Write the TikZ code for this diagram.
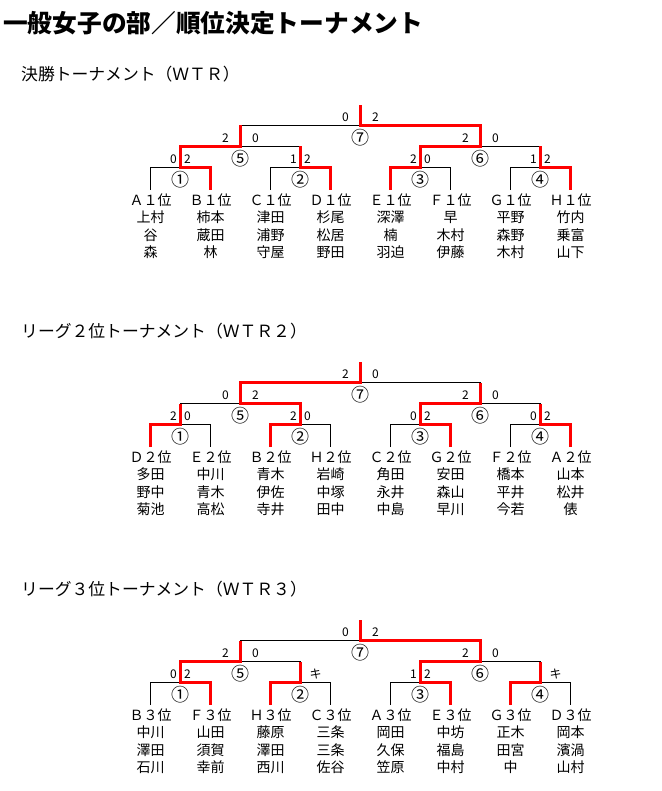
\documentclass[tikz,border=0pt]{standalone}
\usepackage{fontspec}
\setmainfont{Noto Sans CJK JP}
\newfontfamily\jp{Noto Sans CJK JP}
\definecolor{winred}{RGB}{255,0,0}
\tikzset{
  blk/.style={line width=1pt, black},
  redl/.style={line width=3pt, winred, line join=miter},
  lab/.style={font=\jp\fontsize{14}{14}\selectfont, inner sep=0pt},
  sc/.style={font=\jp\fontsize{12}{12}\selectfont, inner sep=0pt},
  circ/.style={font=\jp\fontsize{18}{18}\selectfont, inner sep=0pt},
  subt/.style={font=\jp\fontsize{16.8}{16.8}\selectfont, inner sep=0pt, anchor=west},
  ttl/.style={font=\jp\bfseries\fontsize{24.7}{24.7}\selectfont, inner sep=0pt, anchor=west},
}
\newcommand\mkcoords[1]{%
  \coordinate (#1l1) at (150.5,190);
  \coordinate (#1l2) at (210.5,190);
  \coordinate (#1l3) at (270.5,190);
  \coordinate (#1l4) at (330.5,190);
  \coordinate (#1l5) at (390.5,190);
  \coordinate (#1l6) at (450.5,190);
  \coordinate (#1l7) at (510.5,190);
  \coordinate (#1l8) at (570.5,190);
  \coordinate (#1m1) at (180.5,167.5);
  \coordinate (#1m2) at (300.5,167.5);
  \coordinate (#1m3) at (420.5,167.5);
  \coordinate (#1m4) at (540.5,167.5);
  \coordinate (#1m5) at (240.5,146.5);
  \coordinate (#1m6) at (480.5,146.5);
  \coordinate (#1m7) at (360.5,125.5);
  \coordinate (#1top) at (360.5,105);
  \draw[blk] (#1l1) |- (#1m1) -| (#1l2);
  \draw[blk] (#1l3) |- (#1m2) -| (#1l4);
  \draw[blk] (#1l5) |- (#1m3) -| (#1l6);
  \draw[blk] (#1l7) |- (#1m4) -| (#1l8);
  \draw[blk] (#1m1) |- (#1m5) -| (#1m2);
  \draw[blk] (#1m3) |- (#1m6) -| (#1m4);
  \draw[blk] (#1m5) |- (#1m7) -| (#1m6);
  \foreach \m/\g in {1/①,2/②,3/③,4/④,5/⑤,6/⑥,7/⑦}
    \node[circ] (#1c\m) at ([yshift=-12pt]#1m\m) {\g};
}
\newcommand\win[3]{\draw[redl] (#1) |- (#2) -- (#2 |- #3);}
\newcommand\scores[5]{%
  \node[sc] (#1sl#2) at ([xshift=-#3pt,yshift=8pt]#1m#2) {#4};
  \node[sc] (#1sr#2) at ([xshift=#3pt,yshift=8pt]#1m#2) {#5};}
\newcommand\rscore[4]{%
  \node[sc] (#1sr#2) at ([xshift=#3pt,yshift=8pt]#1m#2) {#4};}
\begin{document}
\begin{tikzpicture}[x=1pt,y=-1pt]
\useasboundingbox[fill=white] (0,0) rectangle (661,791);
\node[ttl] (title) at (3,23) {一般女子の部／順位決定トーナメント};

% ---------- bracket 1 ----------
\begin{scope}
\node[subt] (Asub) at (21,74) {決勝トーナメント（ＷＴＲ）};
\mkcoords{A}
\win{Al2}{Am1}{Am5}
\win{Al4}{Am2}{Am5}
\win{Al5}{Am3}{Am6}
\win{Al8}{Am4}{Am6}
\win{Am1}{Am5}{Am7}
\win{Am3}{Am6}{Am7}
\win{Am6}{Am7}{Atop}
\scores{A}{1}{7}{0}{2}
\scores{A}{2}{7}{1}{2}
\scores{A}{3}{7}{2}{0}
\scores{A}{4}{7}{1}{2}
\scores{A}{5}{15}{2}{0}
\scores{A}{6}{15}{2}{0}
\scores{A}{7}{15}{0}{2}
\foreach \n/\t/\a/\b/\c in {1/Ａ１位/上村/谷/森, 2/Ｂ１位/柿本/蔵田/林, 3/Ｃ１位/津田/浦野/守屋, 4/Ｄ１位/杉尾/松居/野田, 5/Ｅ１位/深澤/楠/羽迫, 6/Ｆ１位/早/木村/伊藤, 7/Ｇ１位/平野/森野/木村, 8/Ｈ１位/竹内/乗富/山下}{
  \node[lab] (Alt\n) at ([yshift=-10pt]Al\n) {\t};
  \node[lab] (Ala\n) at ([yshift=-27.5pt]Al\n) {\a};
  \node[lab] (Alb\n) at ([yshift=-45pt]Al\n) {\b};
  \node[lab] (Alc\n) at ([yshift=-62.5pt]Al\n) {\c};
}
\end{scope}

% ---------- bracket 2 ----------
\begin{scope}[shift={(0,257)}]
\node[subt] (Bsub) at (21,74) {リーグ２位トーナメント（ＷＴＲ２）};
\mkcoords{B}
\win{Bl1}{Bm1}{Bm5}
\win{Bl3}{Bm2}{Bm5}
\win{Bl6}{Bm3}{Bm6}
\win{Bl8}{Bm4}{Bm6}
\win{Bm2}{Bm5}{Bm7}
\win{Bm3}{Bm6}{Bm7}
\win{Bm5}{Bm7}{Btop}
\scores{B}{1}{7}{2}{0}
\scores{B}{2}{7}{2}{0}
\scores{B}{3}{7}{0}{2}
\scores{B}{4}{7}{0}{2}
\scores{B}{5}{15}{0}{2}
\scores{B}{6}{15}{2}{0}
\scores{B}{7}{15}{2}{0}
\foreach \n/\t/\a/\b/\c in {1/Ｄ２位/多田/野中/菊池, 2/Ｅ２位/中川/青木/高松, 3/Ｂ２位/青木/伊佐/寺井, 4/Ｈ２位/岩崎/中塚/田中, 5/Ｃ２位/角田/永井/中島, 6/Ｇ２位/安田/森山/早川, 7/Ｆ２位/橋本/平井/今若, 8/Ａ２位/山本/松井/俵}{
  \node[lab] (Blt\n) at ([yshift=-10pt]Bl\n) {\t};
  \node[lab] (Bla\n) at ([yshift=-27.5pt]Bl\n) {\a};
  \node[lab] (Blb\n) at ([yshift=-45pt]Bl\n) {\b};
  \node[lab] (Blc\n) at ([yshift=-62.5pt]Bl\n) {\c};
}
\end{scope}

% ---------- bracket 3 ----------
\begin{scope}[shift={(0,515)}]
\node[subt] (Csub) at (21,74) {リーグ３位トーナメント（ＷＴＲ３）};
\mkcoords{C}
\win{Cl2}{Cm1}{Cm5}
\win{Cl3}{Cm2}{Cm5}
\win{Cl6}{Cm3}{Cm6}
\win{Cl7}{Cm4}{Cm6}
\win{Cm1}{Cm5}{Cm7}
\win{Cm3}{Cm6}{Cm7}
\win{Cm6}{Cm7}{Ctop}
\scores{C}{1}{7}{0}{2}
\rscore{C}{2}{15}{キ}
\scores{C}{3}{7}{1}{2}
\rscore{C}{4}{15}{キ}
\scores{C}{5}{15}{2}{0}
\scores{C}{6}{15}{2}{0}
\scores{C}{7}{15}{0}{2}
\foreach \n/\t/\a/\b/\c in {1/Ｂ３位/中川/澤田/石川, 2/Ｆ３位/山田/須賀/幸前, 3/Ｈ３位/藤原/澤田/西川, 4/Ｃ３位/三条/三条/佐谷, 5/Ａ３位/岡田/久保/笠原, 6/Ｅ３位/中坊/福島/中村, 7/Ｇ３位/正木/田宮/中, 8/Ｄ３位/岡本/濱渦/山村}{
  \node[lab] (Clt\n) at ([yshift=-10pt]Cl\n) {\t};
  \node[lab] (Cla\n) at ([yshift=-27.5pt]Cl\n) {\a};
  \node[lab] (Clb\n) at ([yshift=-45pt]Cl\n) {\b};
  \node[lab] (Clc\n) at ([yshift=-62.5pt]Cl\n) {\c};
}
\end{scope}
\end{tikzpicture}
\end{document}
